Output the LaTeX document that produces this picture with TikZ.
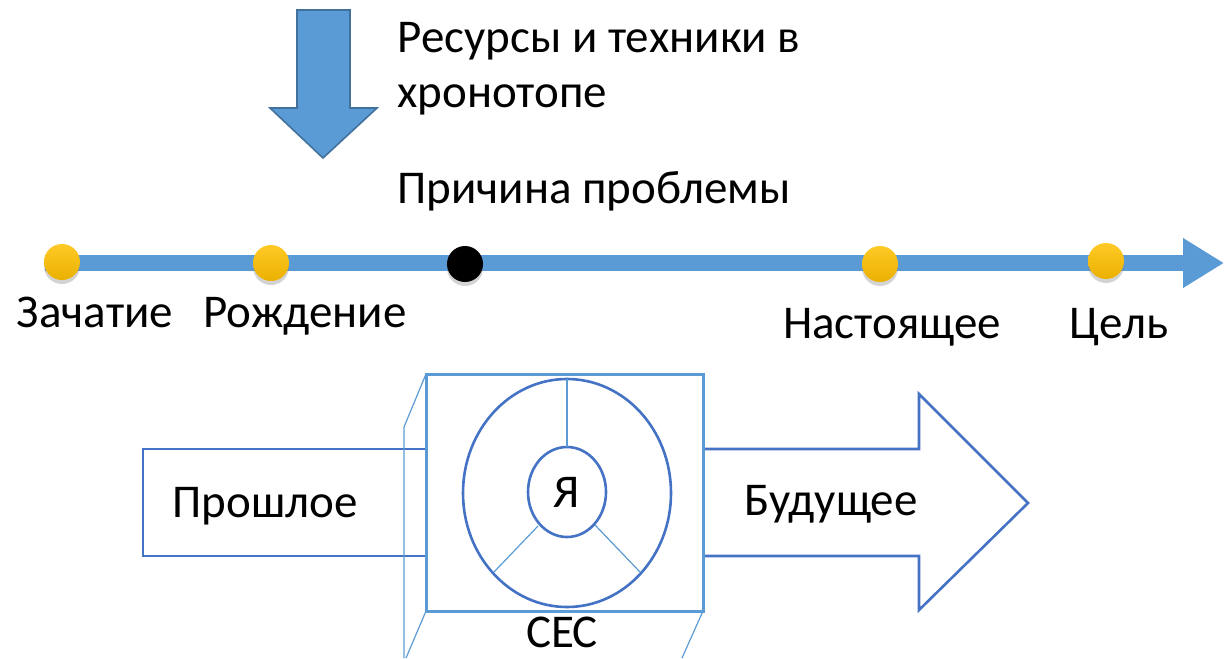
\documentclass[tikz,border=0pt]{standalone}
\usepackage{fontspec}
\setmainfont{Carlito}
\usetikzlibrary{arrows.meta,shadows,positioning}
\definecolor{lineblue}{HTML}{5B9BD5}
\definecolor{edgeblue}{HTML}{4472C4}
\definecolor{darkblue}{HTML}{41719C}
\definecolor{gold}{HTML}{FFC000}

\begin{document}
\begin{tikzpicture}[x=0.5pt,y=-0.5pt,
  every node/.style={font=\fontsize{23.5}{28}\selectfont,inner sep=0pt},
  dot/.style={circle,inner sep=0pt,minimum size=18pt,
    drop shadow={opacity=0.35,shadow xshift=0pt,shadow yshift=-2pt}},
  mark dot/.style={dot,top color=gold!85!white,bottom color=gold!92!black},
  cause dot/.style={dot,fill=black},
  tag/.style={anchor=base},
  thin edge/.style={lineblue,line width=0.6pt},
  shape edge/.style={edgeblue,line width=1.3pt}]
\useasboundingbox (0,0) rectangle (1224,658);

% стрелка ресурсов
\draw[fill=lineblue,draw=darkblue,line width=0.8pt]
  (297,10) -- (350,10) -- (350,108) -- (377,108) -- (323,158)
  -- (270,108) -- (297,108) -- cycle;
\node[anchor=base west] (res) at (397,53) {Ресурсы и техники в};
\node[anchor=base west] (res2) at (397,107) {хронотопе};
\node[anchor=base west] (cause) at (397,203) {Причина проблемы};

% ось времени
\coordinate (t0) at (45,263);
\coordinate (t1) at (1224,263);
\draw[lineblue,line width=8pt,-{Triangle[length=20.5pt,width=23.5pt]}]
  (t0) -- (t1);
\node[mark dot] (conc) at (62,262) {};
\node[mark dot] (birth) at (271,263) {};
\node[cause dot] (root) at (465,264) {};
\node[mark dot] (now) at (880,264) {};
\node[mark dot] (goal) at (1106,261) {};
\node[tag] at (95,327) {Зачатие};
\node[tag] at (305,327) {Рождение};
\node[tag] at (892,338) {Настоящее};
\node[tag] at (1119,338) {Цель};

% прошлое -- СЕС -- будущее
\draw[shape edge] (426,449) -- (143,449) -- (143,556) -- (426,556);
\node[tag] (past) at (265,517) {Прошлое};
\draw[shape edge] (703,449) -- (919,449) -- (919,394) -- (1028,503)
  -- (919,610) -- (919,556) -- (703,556);
\node[tag] (future) at (831,515) {Будущее};

\draw[thin edge] (426,374) -- (404,427) -- (404,658);
\draw[thin edge] (426,611) -- (406,658);
\draw[thin edge] (703,611) -- (682,658);
\draw[lineblue,line width=1.5pt] (426,374) rectangle (703,611);

\draw[shape edge] (567,493) ellipse [x radius=104,y radius=114];
\draw[shape edge] (567,492) ellipse [x radius=39,y radius=45];
\draw[thin edge] (567,379) -- (567,447);
\draw[thin edge] (538,526) -- (494,572);
\draw[thin edge] (595,525) -- (640,572);
\node[tag] (me) at (567,507) {Я};
\node[tag] (ses) at (562,647) {СЕС};
\end{tikzpicture}
\end{document}
